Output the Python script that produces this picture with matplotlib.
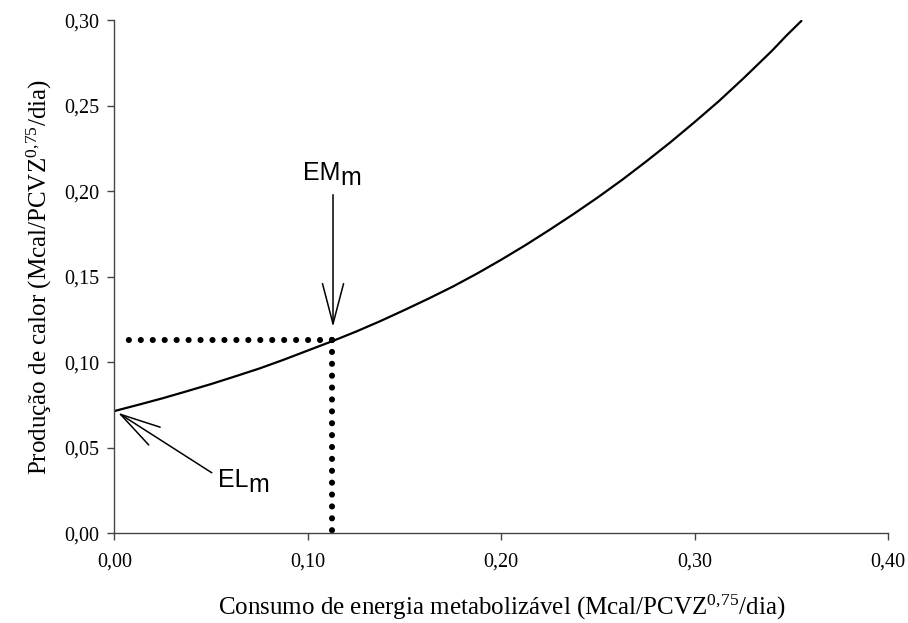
import matplotlib
matplotlib.use("Agg")
import matplotlib.pyplot as plt

plt.rcParams['mathtext.default'] = 'regular'

# curve
consumo = [0.000, 0.0125, 0.025, 0.0375, 0.050, 0.0625, 0.075, 0.0875, 0.100,
           0.1125, 0.125, 0.1375, 0.150, 0.1625, 0.175, 0.1875, 0.200, 0.2125,
           0.225, 0.2375, 0.250, 0.2625, 0.275, 0.2875, 0.300, 0.3125, 0.325,
           0.3325, 0.340, 0.3475, 0.3555]
calor = [0.0715, 0.0752, 0.0790, 0.0831, 0.0873, 0.0918, 0.0964, 0.1015, 0.1069,
         0.1123, 0.1180, 0.1241, 0.1306, 0.1373, 0.1443, 0.1519, 0.1600, 0.1685,
         0.1775, 0.1868, 0.1965, 0.2067, 0.2175, 0.2287, 0.2405, 0.2527, 0.2658,
         0.2740, 0.2822, 0.2911, 0.3000]

# maintenance point (EMm)
em_x = 0.1123
em_y = 0.1129

xticks = [0.0, 0.1, 0.2, 0.3, 0.4]
xticklabels = ['0,00', '0,10', '0,20', '0,30', '0,40']
yticks = [0.0, 0.05, 0.10, 0.15, 0.20, 0.25, 0.30]
yticklabels = ['0,00', '0,05', '0,10', '0,15', '0,20', '0,25', '0,30']

serif = 'Liberation Serif'
sans = 'Liberation Sans'

fig = plt.figure(figsize=(9.08, 6.23), dpi=100)
ax = fig.add_axes([0.1261, 0.144, 0.978 - 0.1261, 0.9674 - 0.144])

ax.plot(consumo, calor, color='black', linewidth=1.6, solid_capstyle='butt',
        solid_joinstyle='round')

# dotted guides, drawn from the curve outward so the corner dot is kept
dots = dict(color='black', linewidth=4.4, dash_capstyle='round')
ax.plot([em_x, 0.004], [em_y, em_y], linestyle=(0, (0.01, 1.945)), **dots)
ax.plot([em_x, em_x], [em_y, 0.0], linestyle=(0, (0.01, 1.935)), **dots)

arrow = dict(arrowstyle='->,head_length=29,head_width=7.6', mutation_scale=1,
             color='black', linewidth=1.1, shrinkA=0, shrinkB=0)
ax.annotate('', xy=(0.113, 0.1207), xytext=(0.113, 0.198), arrowprops=arrow)
ax.annotate('', xy=(0.0018, 0.0705), xytext=(0.0503, 0.0354), arrowprops=arrow)

t1 = ax.text(0.0975, 0.2066, 'EM', fontsize=18, family=sans, va='baseline', ha='left')
ax.annotate('m', xy=(1, 0), xycoords=t1, xytext=(0, -5), textcoords='offset pixels',
            fontsize=18, family=sans, va='bottom', ha='left')
t2 = ax.text(0.0535, 0.0273, 'EL', fontsize=18, family=sans, va='baseline', ha='left')
ax.annotate('m', xy=(1, 0), xycoords=t2, xytext=(0, -5), textcoords='offset pixels',
            fontsize=18, family=sans, va='bottom', ha='left')

ax.set_xlim(0, 0.4)
ax.set_ylim(0, 0.3)
ax.set_xticks(xticks)
ax.set_xticklabels(xticklabels, family=serif, fontsize=14.5)
ax.set_yticks(yticks)
ax.set_yticklabels(yticklabels, family=serif, fontsize=14.5)
ax.tick_params(direction='out', length=5, width=1, color='#444444', pad=6)
ax.tick_params(axis='x', pad=9)

for s in ['top', 'right']:
    ax.spines[s].set_visible(False)
for s in ['left', 'bottom']:
    ax.spines[s].set_color('#444444')
    ax.spines[s].set_linewidth(1.0)

ax.set_xlabel(r'Consumo de energia metabolizável (Mcal/PCVZ$^{0,\!75}$/dia)',
              family=serif, fontsize=18, labelpad=15)
ax.set_ylabel(r'Produção de calor (Mcal/PCVZ$^{0,\!75}$/dia)',
              family=serif, fontsize=18, labelpad=7)

fig.savefig('out.png', dpi=100)
